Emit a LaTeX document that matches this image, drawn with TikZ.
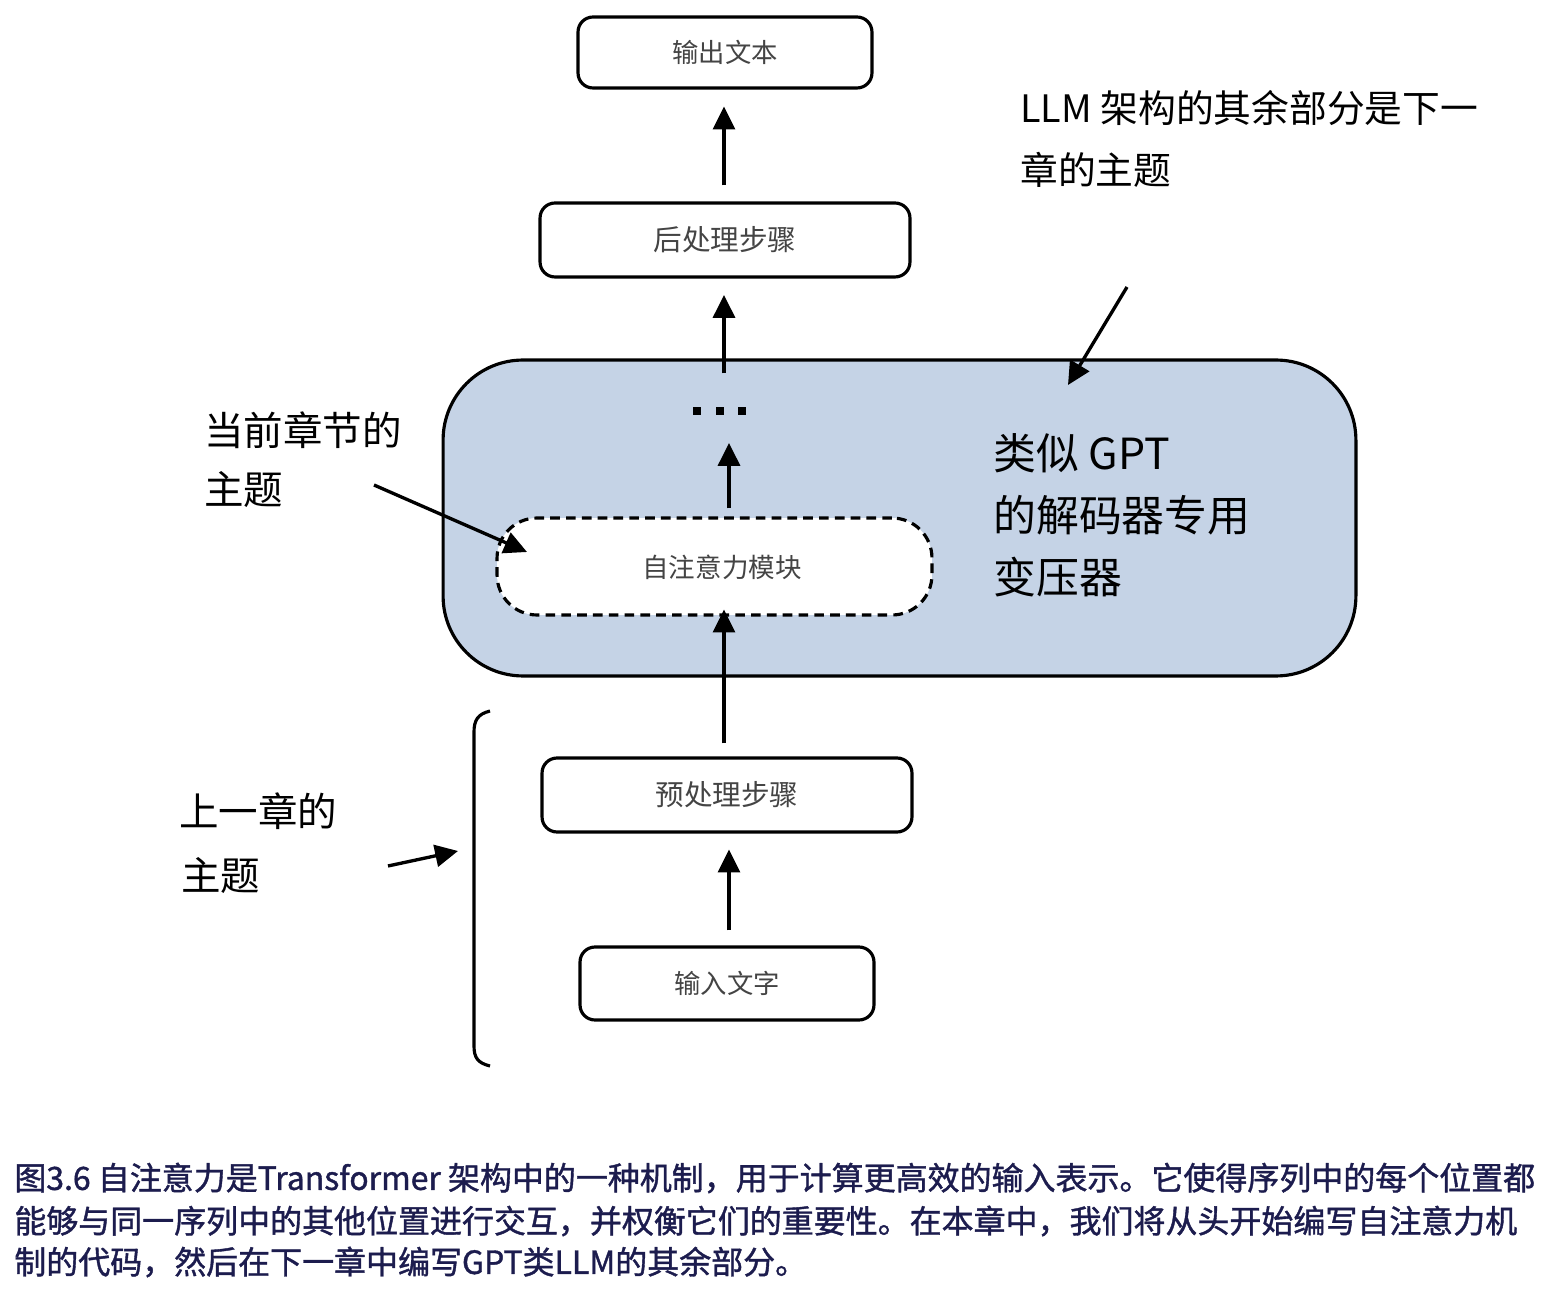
\documentclass[tikz,border=0pt]{standalone}
\usepackage{fontspec}
\setmainfont{Noto Sans CJK SC}
\newfontfamily\capfont[FakeBold=1.2]{Noto Sans CJK SC}
\usetikzlibrary{arrows.meta,calc}
\definecolor{boxtext}{HTML}{444444}
\definecolor{gptfill}{HTML}{C5D3E6}
\definecolor{captext}{HTML}{1C1C4E}
\begin{document}
\begin{tikzpicture}[x=0.02cm,y=-0.02cm,
  stepbox/.style={draw=black,line width=1.8pt,rounded corners=0.3cm,fill=white,text=boxtext,font=\fontsize{15}{18}\selectfont,inner sep=0pt},
  arr/.style={line width=1.9pt,-{Triangle[length=13pt,width=12.5pt]}},
  note/.style={anchor=west,inner sep=0pt,font=\fontsize{22.5}{27}\selectfont},
  gptnote/.style={anchor=west,inner sep=0pt,font=\fontsize{24.4}{29}\selectfont},
  captionline/.style={anchor=west,inner sep=0pt,text=captext,font=\capfont\fontsize{18.2}{22}\selectfont}]
\useasboundingbox (0,0) rectangle (1549,1290);
\fill[white] (0,0) rectangle (1549,1290);
% big GPT box
\node[draw=black,line width=1.8pt,fill=gptfill,rounded corners=1.6cm,minimum width=18.26cm,minimum height=6.32cm,inner sep=0pt] (gpt) at (899.5,518) {};
% boxes
\node[stepbox,minimum width=5.88cm,minimum height=1.42cm] (out) at (725,52.5) {输出文本};
\node[stepbox,minimum width=7.4cm,minimum height=1.48cm,font=\fontsize{16.3}{19}\selectfont] (post) at (725,240) {后处理步骤};
\node[draw=black,line width=1.8pt,dash pattern=on 5.5pt off 3.5pt,rounded corners=0.8cm,fill=white,minimum width=8.7cm,minimum height=1.94cm,inner sep=0pt] (attn) at (714.5,566.5) {};
\node[inner sep=0pt,text=boxtext,font=\fontsize{15.1}{18}\selectfont] (attntext) at (722,567) {自注意力模块};
\node[stepbox,minimum width=7.4cm,minimum height=1.48cm,font=\fontsize{16.3}{19}\selectfont] (pre) at (727,795) {预处理步骤};
\node[stepbox,minimum width=5.88cm,minimum height=1.46cm] (in) at (727,983.5) {输入文字};
% dots
\coordinate (dots) at (720,411);
\foreach \dx in {-23,0,22} \fill ($(dots)+(\dx,0)$) ++(-4,-4) rectangle ++(8,8);
% vertical arrows
\draw[arr] (in.north) ++(2,-15) -- ($(pre.south)+(2,16)$);
\draw[arr] (pre.north) ++(-3,-13) -- ($(pre.north |- attn.south)+(-3,-7)$);
\coordinate (d) at (729,443);
\draw[arr] (attn.north -| d) ++(0,-8) -- (d);
\coordinate (u) at (724,295);
\draw[arr] (u |- gpt.north) ++(0,15) -- (u);
\draw[arr] (post.north) ++(-1,-16) -- ($(out.south)+(-1,17)$);
% annotations
\node[note] (cur1) at (204,430) {当前章节的};
\node[note] (cur2) at (204,490) {主题};
\coordinate (curA) at (374,485);
\coordinate (curB) at (527,552);
\draw[arr] (curA) -- (curB);
\node[note] (prev1) at (179,811) {上一章的};
\node[note] (prev2) at (181,876) {主题};
\coordinate (prevA) at (388,866);
\coordinate (prevB) at (458,851);
\draw[arr] (prevA) -- (prevB);
\draw[line width=1.8pt] (490,711) .. controls (478,714) and (474,720) .. (474,732) -- (474,1046) .. controls (474,1058) and (478,1063) .. (490,1066);
\node[note,font=\fontsize{21.5}{26}\selectfont] (llm1) at (1020,108) {LLM 架构的其余部分是下一};
\node[note,font=\fontsize{21.5}{26}\selectfont] (llm2) at (1020,170) {章的主题};
\coordinate (llmA) at (1127,287);
\coordinate (llmB) at (1068,385);
\draw[arr] (llmA) -- (llmB);
\node[gptnote] (g1) at (993,453) {类似 GPT};
\node[gptnote] (g2) at (993,515) {的解码器专用};
\node[gptnote] (g3) at (993,577) {变压器};
% caption
\node[captionline] (c1) at (14,1178) {图3.6 自注意力是Transformer 架构中的一种机制，用于计算更高效的输入表示。它使得序列中的每个位置都};
\node[captionline] (c2) at (14,1221) {能够与同一序列中的其他位置进行交互，并权衡它们的重要性。在本章中，我们将从头开始编写自注意力机};
\node[captionline] (c3) at (14,1262) {制的代码，然后在下一章中编写GPT类LLM的其余部分。};
\end{tikzpicture}
\end{document}
